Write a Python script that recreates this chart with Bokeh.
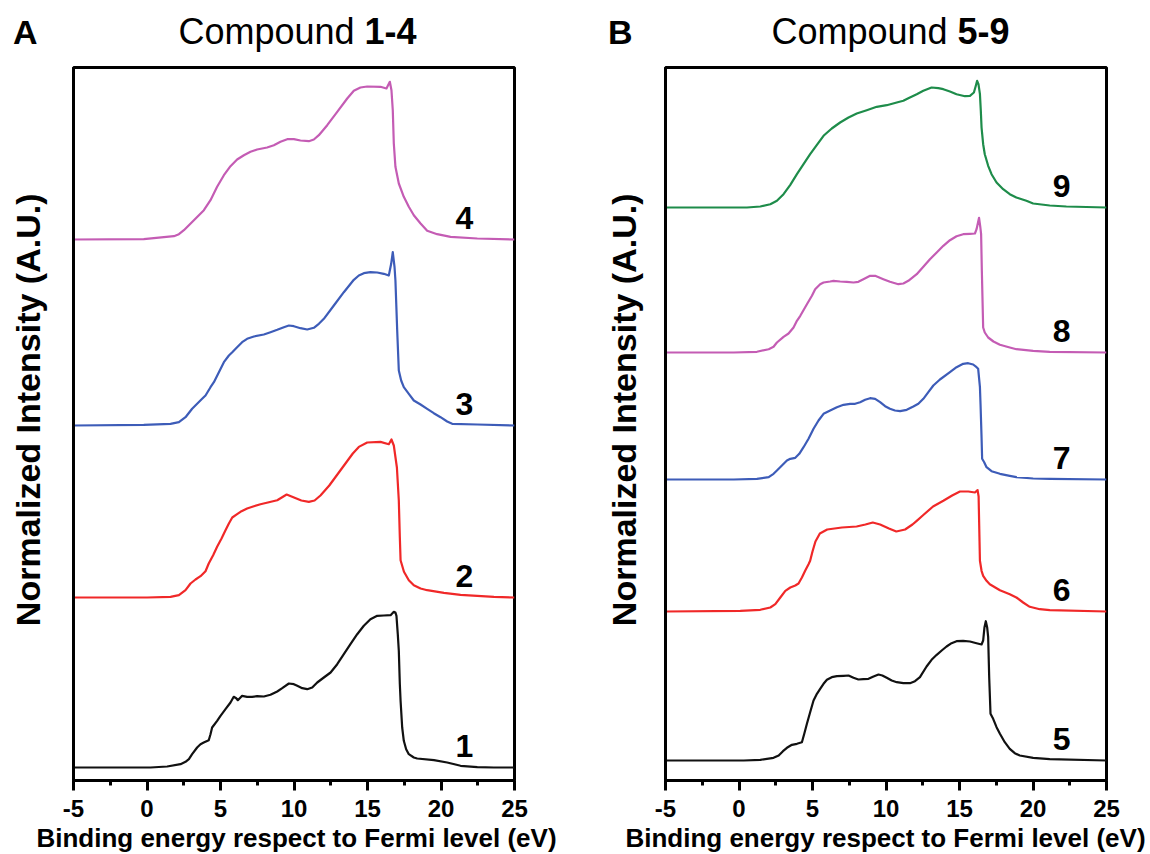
from bokeh.plotting import figure
from bokeh.layouts import row, column
from bokeh.models import Range1d, FixedTicker, Div
from bokeh.core.properties import value
from bokeh.embed import file_html
from bokeh.resources import INLINE

# ---------------- data (binding energy in eV, normalized intensity in A.U.) ----------------
# Compound 1 (black, panel A)
e1 = [-5.0, 0.24, 1.37, 2.28, 2.62, 2.85, 3.07, 3.41, 3.64, 3.86, 4.2, 4.32, 4.43, 4.77, 5.0, 5.34,
      5.68, 5.9, 6.07, 6.18, 6.36, 6.47, 6.81, 7.15, 7.49, 7.95, 8.4, 8.86, 9.2, 9.65, 9.99, 10.22,
      10.56, 10.9, 11.24, 11.58, 12.03, 12.49, 12.94, 13.39, 13.84, 14.3, 14.75, 15.2, 15.66, 16.11,
      16.57, 16.79, 16.9, 16.97, 17.06, 17.13, 17.2, 17.25, 17.36, 17.47, 17.63, 17.81, 18.15,
      18.38, 19.52, 20.42, 21.33, 22.47, 23.6, 25.0]
i1 = [0, 0, 0.01, 0.033, 0.057, 0.083, 0.133, 0.20, 0.233, 0.25, 0.273, 0.333, 0.40, 0.467, 0.517, 0.583,
      0.65, 0.707, 0.693, 0.673, 0.70, 0.717, 0.707, 0.707, 0.713, 0.71, 0.727, 0.76, 0.793, 0.84, 0.833, 0.817,
      0.793, 0.783, 0.80, 0.85, 0.90, 0.95, 1.033, 1.133, 1.233, 1.333, 1.417, 1.483, 1.517, 1.52,
      1.523, 1.557, 1.55, 1.517, 1.333, 1.167, 0.833, 0.667, 0.40, 0.267, 0.183, 0.133, 0.10,
      0.09, 0.073, 0.05, 0.017, 0.003, 0, 0]

# Compound 2 (red, panel A)
e2 = [-5.0, 0.01, 1.6, 2.17, 2.62, 2.96, 3.30, 3.64, 3.98, 4.2, 4.5, 4.77, 5.07, 5.34, 5.57, 5.80,
      6.13, 6.36, 6.81, 7.27, 7.72, 8.29, 8.86, 9.5, 10.0, 10.5, 11.01, 11.4, 11.8, 12.4, 13.0, 13.6,
      14.0, 14.41, 14.98, 15.88, 16.45, 16.63, 16.79, 17.0, 17.13, 17.2, 17.25, 17.48, 17.81, 18.15,
      18.61, 19.06, 20.2, 21.33, 23.6, 25.0]
i2 = [0, 0, 0.007, 0.023, 0.073, 0.14, 0.18, 0.213, 0.263, 0.34, 0.423, 0.507, 0.59, 0.673, 0.74, 0.80,
      0.833, 0.857, 0.89, 0.913, 0.933, 0.953, 0.973, 1.03, 1.0, 0.97, 0.956, 0.97, 1.02, 1.12, 1.24, 1.36,
      1.44, 1.506, 1.55, 1.556, 1.533, 1.58, 1.52, 1.30, 0.97, 0.60, 0.373, 0.257, 0.173, 0.123,
      0.09, 0.073, 0.047, 0.027, 0.007, 0]

# Compound 3 (blue, panel A)
e3 = [-5.0, -0.22, 1.6, 2.17, 2.62, 3.07, 3.41, 3.75, 3.98, 4.32, 4.55, 4.89, 5.23, 5.57, 5.80, 6.13,
      6.47, 6.81, 7.27, 7.95, 8.4, 8.86, 9.31, 9.65, 9.99, 10.44, 10.9, 11.35, 11.69, 12.03, 12.71,
      13.39, 14.07, 14.41, 14.75, 15.2, 15.66, 16.11, 16.45, 16.61, 16.72, 16.84, 16.9, 17.02, 17.13,
      17.29, 17.47, 17.81, 18.15, 18.61, 19.06, 19.51, 19.97, 20.42, 20.76, 22.47, 25.0]
i3 = [0, 0.007, 0.017, 0.033, 0.083, 0.167, 0.217, 0.267, 0.30, 0.383, 0.433, 0.533, 0.633, 0.70, 0.733, 0.783,
      0.833, 0.867, 0.89, 0.91, 0.933, 0.957, 0.983, 1.0, 0.993, 0.973, 0.96, 0.977, 1.017, 1.067, 1.20,
      1.333, 1.457, 1.50, 1.523, 1.533, 1.53, 1.517, 1.50, 1.617, 1.733, 1.583, 1.45, 0.95, 0.55,
      0.45, 0.383, 0.317, 0.25, 0.21, 0.167, 0.123, 0.083, 0.04, 0.017, 0.01, 0]

# Compound 4 (pink, panel A)
e4 = [-5.0, -0.22, 1.83, 2.17, 2.51, 3.19, 3.87, 4.32, 4.77, 5.23, 5.68, 6.13, 6.59, 7.04, 7.49, 8.17,
      8.63, 9.08, 9.54, 9.99, 10.44, 11.01, 11.35, 11.69, 12.26, 12.94, 13.62, 14.07, 14.52, 14.98,
      15.88, 16.29, 16.52, 16.63, 16.72, 16.79, 16.9, 17.13, 17.47, 17.81, 18.15, 18.61, 19.06, 19.74,
      20.65, 22.47, 25.0]
i4 = [0, 0.003, 0.033, 0.053, 0.093, 0.193, 0.293, 0.393, 0.527, 0.643, 0.733, 0.80, 0.843, 0.877, 0.90, 0.92,
      0.943, 0.977, 1.003, 1.003, 0.99, 0.983, 1.0, 1.043, 1.143, 1.277, 1.41, 1.487, 1.52, 1.53,
      1.527, 1.51, 1.577, 1.493, 1.293, 0.96, 0.727, 0.56, 0.427, 0.327, 0.243, 0.16, 0.087, 0.053,
      0.027, 0.01, 0]

# Compound 5 (black, panel B)
e5 = [-5.0, 0.32, 1.45, 2.35, 2.70, 2.99, 3.26, 3.60, 3.94, 4.28, 4.44, 4.62, 4.84, 5.07, 5.30, 5.52,
      5.75, 5.98, 6.31, 6.66, 7.11, 7.45, 7.79, 8.12, 8.46, 8.81, 9.15, 9.49, 9.75, 10.05, 10.39, 10.73,
      11.18, 11.63, 11.97, 12.31, 12.76, 13.10, 13.45, 13.79, 14.12, 14.46, 14.80, 15.25, 15.71, 16.16,
      16.50, 16.61, 16.70, 16.79, 16.88, 16.95, 17.02, 17.11, 17.29, 17.52, 17.75, 18.08, 18.42, 18.76,
      19.10, 20.01, 21.14, 25.0]
i5 = [0, 0, 0.007, 0.027, 0.05, 0.093, 0.127, 0.157, 0.167, 0.183, 0.267, 0.367, 0.483, 0.60, 0.667, 0.717,
      0.767, 0.807, 0.833, 0.843, 0.847, 0.85, 0.827, 0.81, 0.813, 0.817, 0.84, 0.86, 0.85, 0.827, 0.80, 0.783,
      0.773, 0.773, 0.793, 0.833, 0.94, 1.007, 1.057, 1.10, 1.14, 1.173, 1.193, 1.197, 1.19, 1.173,
      1.16, 1.20, 1.333, 1.393, 1.333, 1.233, 0.833, 0.467, 0.417, 0.333, 0.267, 0.183, 0.117, 0.073,
      0.05, 0.027, 0.013, 0]

# Compound 6 (red, panel B)
e6 = [-5.0, 0.09, 1.45, 2.13, 2.47, 2.81, 3.15, 3.49, 3.83, 4.05, 4.28, 4.50, 4.73, 4.84, 5.0, 5.2,
      5.5, 6.0, 7.0, 8.0, 8.6, 9.1, 9.6, 10.2, 10.7, 11.3, 11.8, 12.09, 12.5, 13.2, 13.9, 14.5, 15.03,
      15.6, 16.05, 16.23, 16.3, 16.39, 16.50, 16.61, 16.84, 17.06, 17.75, 18.42, 18.87, 19.33, 19.78,
      20.46, 21.14, 25.0]
i6 = [0, 0.007, 0.017, 0.04, 0.073, 0.14, 0.207, 0.24, 0.26, 0.28, 0.34, 0.407, 0.473, 0.507, 0.60, 0.70,
      0.78, 0.82, 0.84, 0.85, 0.87, 0.89, 0.87, 0.83, 0.80, 0.82, 0.87, 0.907, 0.96, 1.05, 1.107, 1.16, 1.20,
      1.20, 1.19, 1.214, 1.15, 0.507, 0.407, 0.357, 0.307, 0.273, 0.213, 0.173, 0.14, 0.09, 0.047,
      0.023, 0.013, 0]

# Compound 7 (blue, panel B)
e7 = [-5.0, -0.36, 1.22, 2.02, 2.35, 2.58, 2.92, 3.26, 3.49, 3.83, 4.10, 4.39, 4.73, 5.07, 5.41, 5.75,
      6.20, 6.66, 7.11, 7.56, 7.90, 8.24, 8.58, 8.92, 9.26, 9.60, 9.94, 10.27, 10.61, 10.96, 11.41,
      11.86, 12.2, 12.54, 12.88, 13.22, 13.67, 14.35, 14.80, 15.25, 15.59, 15.93, 16.16, 16.27, 16.39,
      16.43, 16.50, 16.54, 16.68, 16.84, 17.18, 17.75, 18.42, 18.87, 20.01, 21.14, 25.0]
i7 = [0, 0, 0.007, 0.023, 0.057, 0.09, 0.14, 0.19, 0.207, 0.217, 0.257, 0.323, 0.407, 0.507, 0.59, 0.657,
      0.69, 0.723, 0.747, 0.757, 0.757, 0.773, 0.797, 0.813, 0.807, 0.773, 0.733, 0.707, 0.69, 0.683, 0.697,
      0.73, 0.757, 0.807, 0.873, 0.94, 1.0, 1.073, 1.123, 1.157, 1.163, 1.15, 1.123, 1.107, 0.923,
      0.757, 0.423, 0.207, 0.173, 0.123, 0.083, 0.057, 0.037, 0.023, 0.01, 0.007, 0]

# Compound 8 (pink, panel B)
e8 = [-5.0, -0.36, 1.22, 2.02, 2.35, 2.58, 3.03, 3.37, 3.71, 3.94, 4.17, 4.62, 4.96, 5.18, 5.52, 5.75,
      6.20, 6.43, 6.88, 7.33, 7.79, 8.12, 8.46, 8.92, 9.26, 9.82, 10.27, 10.84, 11.18, 11.52, 12.09,
      12.54, 12.99, 13.45, 13.90, 14.35, 14.80, 15.25, 15.71, 16.05, 16.16, 16.33, 16.42, 16.47, 16.52,
      16.61, 16.72, 16.95, 17.31, 17.75, 18.42, 18.87, 20.01, 21.14, 25.0]
i8 = [0, 0, 0.007, 0.033, 0.057, 0.10, 0.157, 0.19, 0.25, 0.317, 0.367, 0.483, 0.567, 0.633, 0.683, 0.70,
      0.71, 0.717, 0.71, 0.707, 0.70, 0.707, 0.733, 0.767, 0.767, 0.733, 0.707, 0.683, 0.69, 0.717, 0.783,
      0.857, 0.933, 1.0, 1.067, 1.123, 1.163, 1.183, 1.187, 1.19, 1.233, 1.347, 1.25, 1.183, 0.817,
      0.25, 0.20, 0.15, 0.11, 0.077, 0.05, 0.033, 0.017, 0.007, 0]

# Compound 9 (green, panel B)
e9 = [-5.0, 0.54, 1.45, 2.13, 2.58, 3.03, 3.49, 3.94, 4.39, 4.84, 5.30, 5.75, 6.31, 6.88, 7.45, 8.01,
      8.69, 9.37, 10.05, 10.73, 11.18, 11.52, 12.09, 12.54, 13.10, 13.56, 13.90, 14.35, 14.80, 15.37,
      15.71, 15.98, 16.11, 16.20, 16.29, 16.39, 16.45, 16.50, 16.61, 16.72, 16.95, 17.18, 17.52, 17.97,
      18.42, 18.87, 19.55, 20.01, 21.14, 22.27, 25.0]
i9 = [0, 0, 0.01, 0.033, 0.067, 0.133, 0.227, 0.333, 0.433, 0.533, 0.627, 0.717, 0.79, 0.85, 0.90, 0.94,
      0.973, 1.007, 1.023, 1.05, 1.067, 1.093, 1.133, 1.167, 1.20, 1.193, 1.183, 1.16, 1.133, 1.113,
      1.117, 1.15, 1.217, 1.267, 1.233, 1.133, 0.967, 0.80, 0.633, 0.533, 0.417, 0.333, 0.25, 0.183,
      0.133, 0.10, 0.067, 0.04, 0.02, 0.01, 0]

# vertical stacking offsets of each spectrum
offsets_a = [0.13, 1.83, 3.55, 5.41]          # compounds 1-4
offsets_b = [0.20, 1.69, 3.01, 4.28, 5.73]    # compounds 5-9

names_a = ["1", "2", "3", "4"]
names_b = ["5", "6", "7", "8", "9"]

panel_letters = ["A", "B"]
panel_ranges = ["1-4", "5-9"]

x_ticks = [-5, 0, 5, 10, 15, 20, 25]
x_minor = [-2.5, 2.5, 7.5, 12.5, 17.5, 22.5]
x_tick_labels = ["-5", "0", "5", "10", "15", "20", "25"]
x_title = "Binding energy respect to Fermi level (eV)"
y_title = "Normalized Intensity (A.U.)"

# ---------------- styles ----------------
FONT = "Liberation Sans"
BLACK = "#111111"
RED = "#f02828"
BLUE = "#3d5cb8"
PINK = "#c45cb4"
GREEN = "#1e8c4a"

HEAD_H = 59
FOOT_H = 24
TOP_B = 8
BOT_B = 50
FRAME_W = 441
FRAME_H = 713
NBSP = "\u00a0"


def header(width, letter, rng, letter_left, frame_left, title_shift):
    html = (
        f'<div style="position:relative;width:{width}px;height:{HEAD_H}px;'
        f'font-family:\'{FONT}\',Arial,sans-serif;color:#000;">'
        f'<span style="position:absolute;left:{letter_left}px;top:15px;font-size:34px;'
        f'line-height:34px;font-weight:bold;">{letter}</span>'
        f'<span style="position:absolute;left:{frame_left + title_shift}px;width:{FRAME_W}px;'
        f'top:14px;font-size:36px;line-height:36px;text-align:center;white-space:nowrap;">'
        f'Compound <b>{rng}</b></span></div>'
    )
    return Div(text=html, width=width, height=HEAD_H, margin=(0, 0, 0, 0))


def footer(width, frame_left, shift):
    c = frame_left + FRAME_W / 2 + shift
    html = (
        f'<div style="position:relative;width:{width}px;height:{FOOT_H}px;'
        f'font-family:\'{FONT}\',Arial,sans-serif;color:#000;">'
        f'<span style="position:absolute;left:{c - 300:.1f}px;width:600px;top:-5px;'
        f'font-size:26px;line-height:26px;font-weight:bold;text-align:center;'
        f'white-space:nowrap;">{x_title}</span></div>'
    )
    return Div(text=html, width=width, height=FOOT_H, margin=(0, 0, 0, 0))


def make_panel(series, offsets, names, colors, left_border, right_border, label_x,
               ylabel_standoff):
    p = figure(width=left_border + FRAME_W + right_border, height=TOP_B + FRAME_H + BOT_B,
               x_range=Range1d(-5, 25), y_range=Range1d(0, 7.13),
               output_backend="svg", toolbar_location=None,
               min_border_left=left_border, min_border_right=right_border,
               min_border_top=TOP_B, min_border_bottom=BOT_B, margin=(0, 0, 0, 0))
    p.grid.visible = False
    p.background_fill_color = "white"
    p.border_fill_color = "white"
    p.outline_line_color = "black"
    p.outline_line_width = 3
    p.outline_line_alpha = 1.0

    # x axis (title drawn in the footer)
    xa = p.xaxis[0]
    xa.ticker = FixedTicker(ticks=x_ticks, minor_ticks=x_minor)
    xa.major_label_overrides = {t: s for t, s in zip(x_ticks, x_tick_labels)}
    xa.major_label_text_font = FONT
    xa.major_label_text_font_style = "bold"
    xa.major_label_text_font_size = "24px"
    xa.major_label_text_color = "black"
    xa.major_label_standoff = 9
    xa.major_tick_in = 0
    xa.major_tick_out = 10
    xa.minor_tick_in = 0
    xa.minor_tick_out = 5
    xa.major_tick_line_width = 3
    xa.minor_tick_line_width = 3
    xa.major_tick_line_color = "black"
    xa.minor_tick_line_color = "black"
    xa.axis_line_width = 3
    xa.axis_line_color = "black"

    # y axis (no ticks); leading spaces nudge the label slightly upward like the original
    ya = p.yaxis[0]
    ya.ticker = FixedTicker(ticks=[])
    ya.major_tick_in = 0
    ya.major_tick_out = 0
    ya.minor_tick_in = 0
    ya.minor_tick_out = 0
    ya.major_label_standoff = 0
    ya.axis_line_width = 3
    ya.axis_line_color = "black"
    ya.axis_label = NBSP * 3 + y_title
    ya.axis_label_text_font = FONT
    ya.axis_label_text_font_style = "bold"
    ya.axis_label_text_font_size = "34px"
    ya.axis_label_text_color = "black"
    ya.axis_label_standoff = ylabel_standoff

    # spectra
    for (ex, iy), off, col in zip(series, offsets, colors):
        p.line(ex, [v + off for v in iy], line_color=col, line_width=2.2,
               line_join="round")

    # compound numbers
    p.text(x=[label_x] * len(names), y=[o + 0.22 for o in offsets], text=names,
           text_font=value(FONT), text_font_style="bold", text_font_size="32px",
           text_color="black", text_align="center", text_baseline="middle")
    return p


LA, RA = 73, 76
LB, RB = 75, 40

pa = make_panel([(e1, i1), (e2, i2), (e3, i3), (e4, i4)], offsets_a, names_a,
                [BLACK, RED, BLUE, PINK], LA, RA, 21.6, 27)
pb = make_panel([(e5, i5), (e6, i6), (e7, i7), (e8, i8), (e9, i9)], offsets_b, names_b,
                [BLACK, RED, BLUE, PINK, GREEN], LB, RB, 21.95, 23)

ha = header(LA + FRAME_W + RA, panel_letters[0], panel_ranges[0], 13, LA, 4)
hb = header(LB + FRAME_W + RB, panel_letters[1], panel_ranges[1], 18, LB, 5)
fa = footer(LA + FRAME_W + RA, LA, 3)
fb = footer(LB + FRAME_W + RB, LB, 0)

layout = row(column(ha, pa, fa, spacing=0), column(hb, pb, fb, spacing=0), spacing=0)
open("out.html", "w").write(file_html(layout, INLINE))
